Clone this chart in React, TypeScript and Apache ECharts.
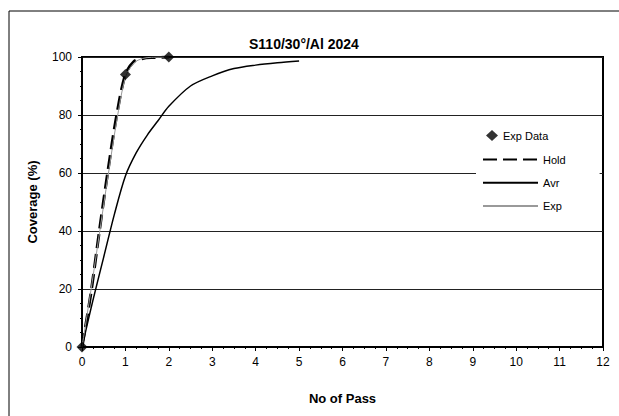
import React, { useEffect, useRef } from "react";
import * as echarts from "echarts";

const titleText = "S110/30°/Al 2024";
const xName = "No of Pass";
const yName = "Coverage (%)";

const expDataX = [0, 1, 2];
const expDataY = [0, 94, 100];

const holdX = [0, 0.2, 0.4, 0.6, 0.8, 1.0, 1.2, 1.4, 1.6, 2.0];
const holdY = [0, 18, 40, 61, 80, 94, 98.5, 99.5, 99.8, 100];

const expX = [0, 0.2, 0.4, 0.6, 0.8, 1.0, 1.2, 1.4, 1.6, 2.0];
const expY = [0, 19, 39, 59, 78, 93, 98, 99.5, 99.9, 100];

const avrX = [0, 0.25, 0.5, 0.75, 1, 1.25, 1.5, 1.75, 2, 2.5, 3, 3.5, 4, 4.5, 5];
const avrY = [0, 16, 31, 46, 59, 67, 73, 78, 83, 90, 93.5, 96, 97.2, 98, 98.6];

const zip = (xs: number[], ys: number[]) => xs.map((x, i) => [x, ys[i]]);

export default function App() {
  const ref = useRef<HTMLDivElement>(null);
  useEffect(() => {
    if (!ref.current) return;
    const chart = echarts.init(ref.current, null, { renderer: "svg" });
    const font = "Arial, 'Liberation Sans', sans-serif";
    chart.setOption({
      animation: false,
      backgroundColor: "#fff",
      textStyle: { fontFamily: font, color: "#000" },
      title: {
        text: titleText,
        left: 249,
        top: 37,
        padding: 0,
        textStyle: { fontFamily: font, fontSize: 14, fontWeight: "bold", color: "#000" },
      },
      graphic: [
        {
          type: "rect",
          shape: { x: 9, y: 11, width: 700, height: 500 },
          style: { fill: "none", stroke: "#000", lineWidth: 1 },
          silent: true,
        },
      ],
      grid: {
        left: 82,
        right: 16,
        top: 57,
        bottom: 69,
        show: true,
        borderColor: "#000",
        borderWidth: 2,
        backgroundColor: "transparent",
      },
      legend: [
        {
          data: ["Exp Data"],
          orient: "vertical",
          left: 484,
          top: 128,
          padding: [2, 4, 2, 2],
          itemWidth: 12,
          itemHeight: 11,
          itemGap: 4,
          backgroundColor: "#fff",
          textStyle: { fontFamily: font, fontSize: 11, color: "#000" },
        },
        {
          data: ["Hold", "Avr", "Exp"],
          orient: "vertical",
          left: 476,
          top: 151,
          padding: [3, 34, 10, 6],
          itemWidth: 55,
          itemHeight: 14,
          itemGap: 12,
          backgroundColor: "#fff",
          itemStyle: { opacity: 0 },
          textStyle: { fontFamily: font, fontSize: 11, color: "#000" },
        },
      ],
      xAxis: {
        type: "value",
        min: 0,
        max: 12,
        interval: 1,
        name: xName,
        nameLocation: "middle",
        nameGap: 45,
        nameTextStyle: { fontFamily: font, fontSize: 13, fontWeight: "bold", color: "#000" },
        axisLine: { show: true, lineStyle: { color: "#000", width: 2 } },
        axisTick: { show: true, length: 4, lineStyle: { color: "#000", width: 1 } },
        minorTick: { show: true, splitNumber: 4, length: 2, lineStyle: { color: "#000", width: 1 } },
        axisLabel: { margin: 9, fontFamily: font, fontSize: 12, color: "#000" },
        splitLine: { show: false },
      },
      yAxis: {
        type: "value",
        min: 0,
        max: 100,
        interval: 20,
        name: yName,
        nameLocation: "middle",
        nameGap: 43,
        nameTextStyle: { fontFamily: font, fontSize: 13, fontWeight: "bold", color: "#000" },
        axisLine: { show: true, lineStyle: { color: "#000", width: 2 } },
        axisTick: { show: true, length: 4, lineStyle: { color: "#000", width: 1 } },
        minorTick: { show: true, splitNumber: 4, length: 2, lineStyle: { color: "#000", width: 1 } },
        axisLabel: { margin: 10, fontFamily: font, fontSize: 12, color: "#000" },
        splitLine: { show: true, lineStyle: { color: "#222", width: 1 } },
      },
      series: [
        {
          name: "Exp Data",
          type: "scatter",
          symbol: "diamond",
          symbolSize: 11,
          itemStyle: { color: "#000" },
          data: zip(expDataX, expDataY),
          z: 5,
        },
        {
          name: "Hold",
          type: "line",
          symbol: "none",
          smooth: 0.3,
          lineStyle: { color: "#000", width: 3, type: [14, 6] },
          itemStyle: { color: "#000" },
          data: zip(holdX, holdY),
          z: 3,
        },
        {
          name: "Avr",
          type: "line",
          symbol: "none",
          smooth: 0.3,
          lineStyle: { color: "#000", width: 1.5 },
          itemStyle: { color: "#000" },
          data: zip(avrX, avrY),
          z: 4,
        },
        {
          name: "Exp",
          type: "line",
          symbol: "none",
          smooth: 0.3,
          lineStyle: { color: "#999", width: 1 },
          itemStyle: { color: "#999" },
          data: zip(expX, expY),
          z: 4,
        },
      ],
    });
    return () => chart.dispose();
  }, []);
  return (
    <div
      ref={ref}
      style={{ position: "fixed", left: 0, top: 0, width: 619, height: 416 }}
    />
  );
}
